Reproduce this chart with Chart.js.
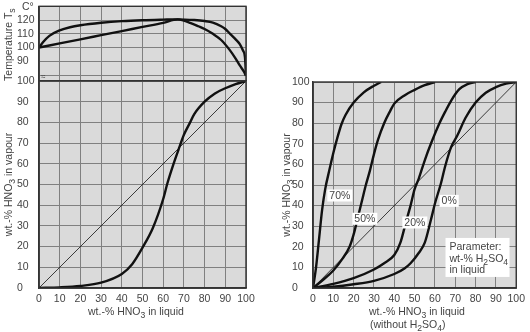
<!DOCTYPE html>
<html>
<head>
<meta charset="utf-8">
<script src="https://cdn.jsdelivr.net/npm/chart.js@4.4.1/dist/chart.umd.min.js"></script>
<style>
  html, body { margin: 0; padding: 0; background: #fff; }
  #wrap { position: relative; width: 530px; height: 332px; }
  #wrap canvas { position: absolute; left: 0; top: 0; }
</style>
</head>
<body>
<div id="wrap">
  <canvas id="temp" width="530" height="332"></canvas>
  <canvas id="left" width="530" height="332"></canvas>
  <canvas id="right" width="530" height="332"></canvas>
</div>
<script>
// HNO3 / water: dew and boiling temperature (deg C) over wt.-% HNO3
var dewX  = [0, 2, 5, 10, 15, 20, 30, 40, 50, 60, 67, 75, 80, 84, 88, 90, 92.3, 95, 97, 98.5, 99.5, 100];
var dewT  = [100, 104, 108.5, 112.5, 114.8, 116.2, 118, 119.2, 119.9, 120.3, 120.5, 120, 119.3, 118.2, 115.5, 113.5, 110, 106, 102.5, 98, 93, 79.5];
var boilX = [0, 10, 20, 30, 40, 50, 60, 67, 70, 73, 77, 80, 84, 88, 92, 95, 97, 99, 100];
var boilT = [100, 103, 106, 109, 112, 115, 118, 120.5, 119.6, 118, 115.5, 113.5, 110, 105.5, 98.5, 92, 87, 82.5, 79.5];
var tempTicks  = [80, 90, 100, 110, 120, 130];
var tempLabels = [90, 100, 110, 120];

// vapour vs. liquid composition, HNO3 / water
var eqX = [0, 10, 20, 30, 40, 45, 50, 55, 60, 62, 65, 68, 70, 73, 75, 80, 85, 90, 95, 100];
var eqY = [0, 0.3, 1, 2.6, 6.8, 11.5, 19.5, 29, 43, 50.5, 60, 68.5, 74, 80, 84, 90, 94, 96.5, 98.5, 100];

// vapour vs. liquid with H2SO4 in the liquid (parameter wt-% H2SO4)
var x70 = [0, 1.5, 3, 4.5, 6, 8, 10, 12, 14, 16, 20, 25, 30, 33.5];
var y70 = [0, 10, 24, 38, 48, 57, 65.5, 73, 79.5, 84, 90, 95, 98.2, 100];
var x50 = [0, 5, 10, 14, 18, 20, 22, 24, 26, 28, 30, 32, 35, 38, 40, 45, 50, 55, 60];
var y50 = [0, 4, 8.5, 13.5, 20, 26, 34, 42, 50, 57, 65, 72, 80, 86, 89.5, 93.5, 96.2, 98.5, 100];
var x20 = [0, 10, 20, 30, 35, 40, 43, 46, 48, 50, 52, 55, 58, 62, 65, 68, 72, 76, 80];
var y20 = [0, 2, 4.8, 9, 12, 16, 22, 33, 40, 48, 53, 62, 70, 79.5, 85.5, 91, 96.5, 99, 100];
var x0  = [0, 10, 20, 30, 40, 45, 48, 52, 55, 58, 60, 63, 65, 68, 71, 75, 80, 85, 90, 95, 100];
var y0  = [0, 0.6, 1.8, 3.5, 6.8, 9.5, 12, 17, 22, 33, 41, 51, 59, 68.5, 74, 82.5, 90, 94.8, 97.5, 99.2, 100];

var curveNames = ['70%', '50%', '20%', '0%'];
var nameX = [13.2, 25.5, 50.1, 67];
var nameY = [44.9, 33.6, 31.8, 42.3];
var paramLines = ['Parameter:', 'wt-% H{2}SO{4}', 'in liquid'];
var paramAt = [65.2, 24.3];

var pctTicks = [0, 10, 20, 30, 40, 50, 60, 70, 80, 90, 100];

var FONT = '"Liberation Sans", Arial, sans-serif';
var TXT = '#444';
var GRID = '#808080';
var EDGE = '#333';
var PLOT_BG = '#dadada';

Chart.defaults.font.family = FONT;
Chart.defaults.font.size = 10.5;
Chart.defaults.color = TXT;

function pts(xs, ys) {
  return xs.map(function (x, i) { return {x: x, y: ys[i]}; });
}

function curve(xs, ys, w) {
  return {
    data: pts(xs, ys), showLine: true, borderColor: '#111', borderWidth: w,
    pointRadius: 0, cubicInterpolationMode: 'monotone', fill: false
  };
}

// text with {..} parts drawn as subscripts
function rich(ctx, str, x, y, size, align) {
  var parts = str.split(/(\{[^}]*\})/).filter(Boolean).map(function (p) {
    return p[0] === '{' ? {t: p.slice(1, -1), sub: true} : {t: p, sub: false};
  });
  var w = 0;
  parts.forEach(function (p) {
    ctx.font = (p.sub ? size * 0.82 : size) + 'px ' + FONT;
    p.w = ctx.measureText(p.t).width;
    w += p.w;
  });
  var cx = align === 'center' ? x - w / 2 : x;
  ctx.textAlign = 'left';
  ctx.textBaseline = 'alphabetic';
  parts.forEach(function (p) {
    ctx.font = (p.sub ? size * 0.82 : size) + 'px ' + FONT;
    ctx.fillText(p.t, cx, y + (p.sub ? size * 0.28 : 0));
    cx += p.w;
  });
  return w;
}

function vrich(ctx, str, x, y, size) {
  ctx.save();
  ctx.translate(x, y);
  ctx.rotate(-Math.PI / 2);
  rich(ctx, str, 0, 0, size, 'center');
  ctx.restore();
}

var frame = {
  id: 'frame',
  beforeDraw: function (chart) {
    var a = chart.chartArea, ctx = chart.ctx;
    ctx.save();
    ctx.fillStyle = PLOT_BG;
    ctx.fillRect(a.left, a.top, a.right - a.left, a.bottom - a.top);
    ctx.restore();
  },
  afterDatasetsDraw: function (chart) {
    var a = chart.chartArea, ctx = chart.ctx;
    ctx.save();
    ctx.strokeStyle = EDGE;
    ctx.lineWidth = 1.4;
    ctx.strokeRect(a.left, a.top, a.right - a.left, a.bottom - a.top);
    ctx.restore();
  }
};

function xScale(showTicks) {
  return {
    type: 'linear', min: 0, max: 100,
    afterBuildTicks: function (s) { s.ticks = pctTicks.map(function (v) { return {value: v}; }); },
    grid: { color: GRID, lineWidth: 1, drawTicks: false },
    border: { display: true, color: EDGE, width: 1.4 },
    ticks: { display: showTicks, padding: 5, maxRotation: 0, autoSkip: false },
    afterFit: function (s) { s.height = showTicks ? 20 : 0; }
  };
}

function yScale(min, max, ticks, labels, width) {
  return {
    type: 'linear', min: min, max: max,
    afterBuildTicks: function (s) { s.ticks = ticks.map(function (v) { return {value: v}; }); },
    grid: { color: GRID, lineWidth: 1, drawTicks: false },
    border: { display: true, color: EDGE, width: 1.4 },
    ticks: {
      crossAlign: 'far', padding: 0, autoSkip: false,
      callback: function (v) { return labels.indexOf(v) >= 0 ? String(v) : ''; }
    },
    afterFit: function (s) { s.width = width; }
  };
}

function base(padding, scales) {
  return {
    responsive: false, animation: false, devicePixelRatio: 1,
    layout: { padding: padding },
    plugins: { legend: { display: false }, tooltip: { enabled: false } },
    events: [],
    scales: scales
  };
}

// temperature panel
new Chart(document.getElementById('temp'), {
  type: 'scatter',
  data: { datasets: [curve(dewX, dewT, 2.4), curve(boilX, boilT, 2.4)] },
  options: base({left: 17, top: 5, right: 284, bottom: 251}, {
    x: xScale(false),
    y: yScale(75.7, 130, tempTicks, tempLabels, 22)
  }),
  plugins: [frame, {
    id: 'tempText',
    afterDraw: function (chart) {
      var ctx = chart.ctx, a = chart.chartArea;
      ctx.save();
      ctx.fillStyle = TXT;
      rich(ctx, 'C°', 22, 10, 10.5, 'left');
      vrich(ctx, 'Temperature T{s}', 12, (a.top + a.bottom) / 2 + 1, 10.5);
      ctx.font = '8px ' + FONT;
      ctx.fillText('≈', a.left + 2, a.bottom - 2);
      ctx.restore();
    }
  }]
});

// vapour / liquid, HNO3 - water
new Chart(document.getElementById('left'), {
  type: 'scatter',
  data: { datasets: [curve([0, 100], [0, 100], 0.8), curve(eqX, eqY, 2.4)] },
  options: base({left: 17, top: 81, right: 284, bottom: 24}, {
    x: xScale(true),
    y: yScale(0, 100, pctTicks, pctTicks, 22)
  }),
  plugins: [frame, {
    id: 'leftText',
    afterDraw: function (chart) {
      var ctx = chart.ctx, a = chart.chartArea;
      ctx.save();
      ctx.fillStyle = TXT;
      vrich(ctx, 'wt.-% HNO{3} in vapour', 12, (a.top + a.bottom) / 2, 10.5);
      rich(ctx, 'wt.-% HNO{3} in liquid', 88, 315, 10.5, 'left');
      ctx.restore();
    }
  }]
});

// vapour / liquid with H2SO4 in the liquid
new Chart(document.getElementById('right'), {
  type: 'scatter',
  data: {
    datasets: [
      curve([0, 100], [0, 100], 0.8),
      curve(x70, y70, 2.4), curve(x50, y50, 2.4), curve(x20, y20, 2.4), curve(x0, y0, 2.4)
    ]
  },
  options: base({left: 292, top: 82, right: 10, bottom: 24}, {
    x: xScale(true),
    y: yScale(0, 100, pctTicks, pctTicks, 21)
  }),
  plugins: [frame, {
    id: 'rightText',
    afterDatasetsDraw: function (chart) {
      var ctx = chart.ctx, xs = chart.scales.x, ys = chart.scales.y;
      ctx.save();
      ctx.font = '10.5px ' + FONT;
      curveNames.forEach(function (t, i) {
        var px = xs.getPixelForValue(nameX[i]), py = ys.getPixelForValue(nameY[i]);
        var w = ctx.measureText(t).width + 4;
        ctx.fillStyle = '#fff';
        ctx.fillRect(px - w / 2, py - 6, w, 12);
        ctx.fillStyle = TXT;
        ctx.textAlign = 'center';
        ctx.textBaseline = 'middle';
        ctx.fillText(t, px, py + 0.5);
      });
      var bx = xs.getPixelForValue(paramAt[0]), by = ys.getPixelForValue(paramAt[1]);
      ctx.fillStyle = '#fff';
      ctx.fillRect(bx, by, 64, 39);
      ctx.fillStyle = TXT;
      paramLines.forEach(function (t, i) {
        rich(ctx, t, bx + 4, by + 12 + i * 11.7, 10.5, 'left');
      });
      ctx.restore();
    },
    afterDraw: function (chart) {
      var ctx = chart.ctx, a = chart.chartArea;
      ctx.save();
      ctx.fillStyle = TXT;
      vrich(ctx, 'wt.-% HNO{3} in vapour', 290, (a.top + a.bottom) / 2, 10.5);
      rich(ctx, 'wt.-% HNO{3} in liquid', 369, 315, 10.5, 'left');
      rich(ctx, '(without H{2}SO{4})', 370, 328, 10.5, 'left');
      ctx.restore();
    }
  }]
});
</script>
</body>
</html>
